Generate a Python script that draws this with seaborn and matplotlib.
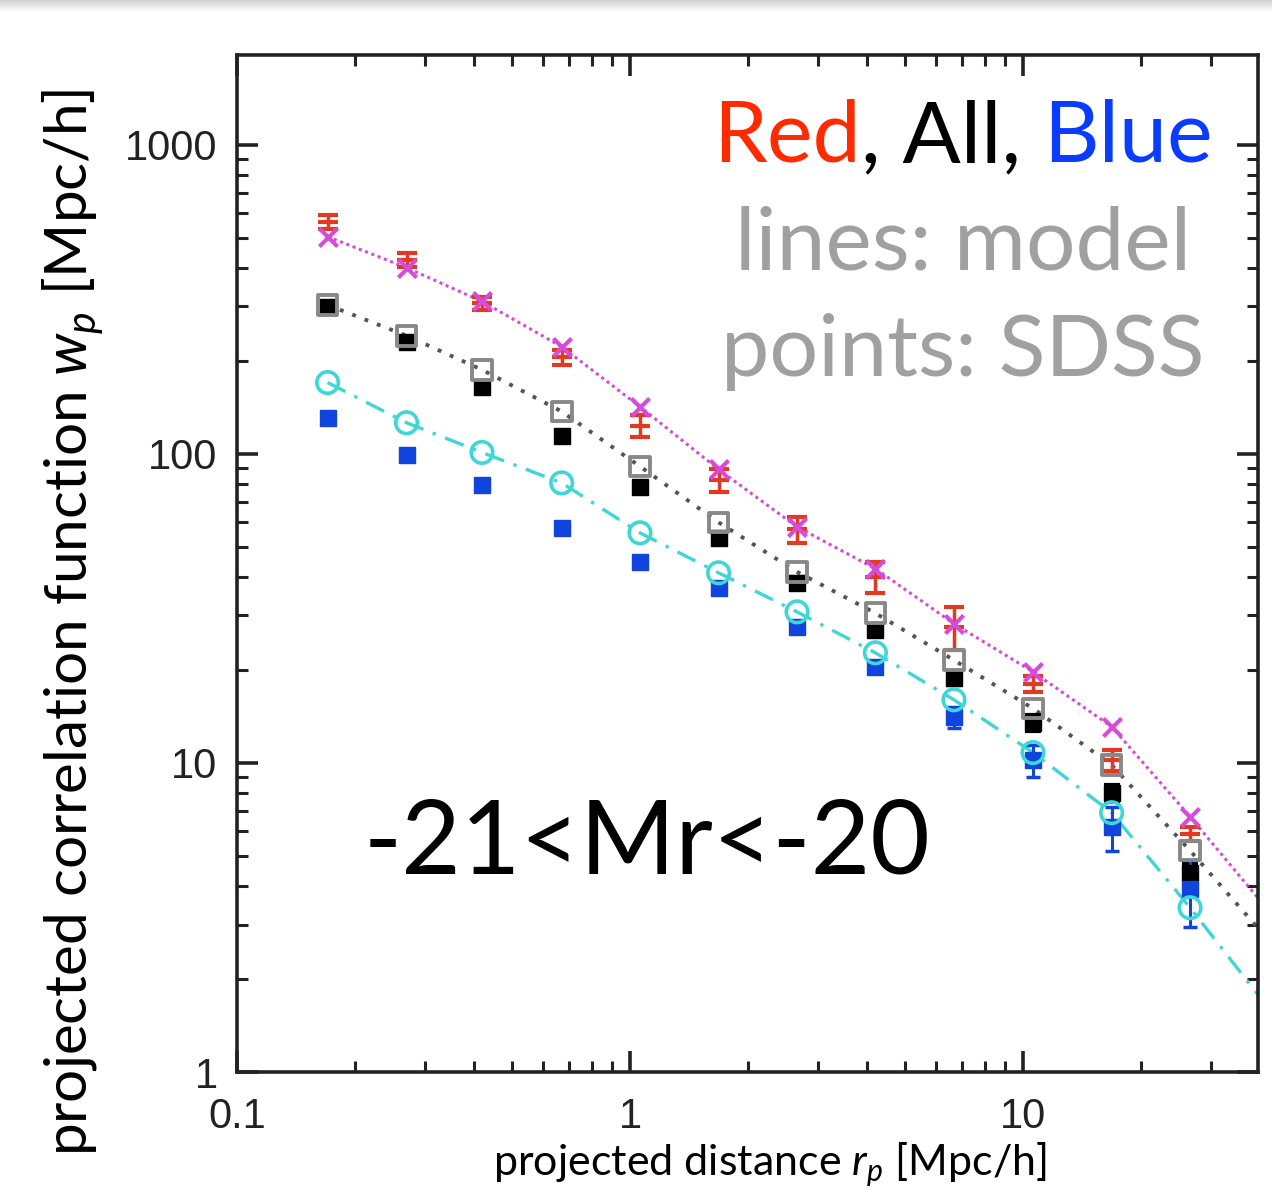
import numpy as np
import pandas as pd
import matplotlib
matplotlib.use("Agg")
import matplotlib.pyplot as plt
import seaborn as sns
from matplotlib import font_manager as fm
from matplotlib.ticker import LogLocator, FixedLocator, FixedFormatter, NullFormatter

# ---------------- data ----------------
rp = [0.17, 0.27, 0.42, 0.67, 1.06, 1.68, 2.66, 4.21, 6.67, 10.6, 16.8, 26.6]
rp_model = rp + [40.0]

red_wp = [564, 425, 307, 205, 123, 82, 57, 40, 27.5, 18.0, 10.2, 5.9]
red_err = [30, 22, 15, 12, 10, 7, 5.5, 4.5, 4.4, 1.1, 0.8, 0.3]
all_wp = [298, 230, 164, 114, 78, 53.5, 38.3, 26.9, 18.8, 13.5, 8.0, 4.4]
all_err = [12, 9, 6, 4.5, 3, 2.2, 1.6, 1.2, 1.0, 0.8, 0.5, 0.35]
blue_wp = [131, 99, 79.4, 57.6, 44.7, 36.8, 27.6, 20.5, 14.1, 10.2, 6.2, 3.9]
blue_err = [4, 3, 2.4, 1.8, 1.4, 1.3, 1.1, 0.9, 1.1, 1.2, 1.0, 0.95]

red_model = [504, 400, 311, 222, 142, 89, 58, 42.5, 28.2, 19.7, 13.1, 6.7, 3.6]
all_model = [303, 241, 187, 137, 91, 60, 41.5, 30.5, 21.5, 15.0, 9.85, 5.2, 2.88]
blue_model = [170, 126, 101, 80.5, 55.5, 41.2, 30.8, 22.7, 16.0, 10.8, 6.9, 3.4, 1.75]

y_ticks = [1, 10, 100, 1000]
y_ticklabels = ["1", "10", "100", "1000"]
x_ticks = [0.1, 1, 10]
x_ticklabels = ["0.1", "1", "10"]

# ---------------- style ----------------
sns.set_theme(style="ticks")
W, H = 1272, 1197


def has_font(name):
    try:
        fm.findfont(fm.FontProperties(family=name), fallback_to_default=False)
        return True
    except Exception:
        return False

tick_font = "Liberation Sans Narrow" if has_font("Liberation Sans Narrow") else "Liberation Sans"
text_font = "Lato" if has_font("Lato") else "DejaVu Sans"
plt.rcParams["font.family"] = [text_font, "DejaVu Sans"]
plt.rcParams["mathtext.fontset"] = "custom"
plt.rcParams["mathtext.it"] = text_font + ":italic"
plt.rcParams["mathtext.rm"] = text_font

fig = plt.figure(figsize=(W / 100, H / 100), dpi=100)
fig.patch.set_facecolor("white")

L, R, T, B = 237, 1258, 55, 1072
ax = fig.add_axes([L / W, 1 - B / H, (R - L) / W, (B - T) / H])
ax.set_xscale("log")
ax.set_yscale("log")
ax.set_xlim(0.1, 39.6)
ax.set_ylim(1, 1950)

# model lines
mred = pd.DataFrame({"rp": rp_model, "wp": red_model})
mall = pd.DataFrame({"rp": rp_model, "wp": all_model})
mblue = pd.DataFrame({"rp": rp_model, "wp": blue_model})
sns.lineplot(data=mred, x="rp", y="wp", ax=ax, color="#d84ad8", lw=2.2,
             linestyle=(0, (1, 1.2)), zorder=2)
sns.lineplot(data=mall, x="rp", y="wp", ax=ax, color="#555555", lw=2.8,
             linestyle=(0, (1, 2.4)), zorder=2)
sns.lineplot(data=mblue, x="rp", y="wp", ax=ax, color="#3ed6d6", lw=2.4,
             linestyle=(0, (6, 3, 1, 3)), zorder=2)

# SDSS points
ax.errorbar(rp, all_wp, yerr=all_err, fmt="s", color="black", ms=12,
            capsize=6, elinewidth=2.5, capthick=3, zorder=3)
ax.errorbar(rp, blue_wp, yerr=blue_err, fmt="s", color="#1144dd", ms=12,
            capsize=5, elinewidth=2.2, capthick=2.5, zorder=3)
ax.errorbar(rp, red_wp, yerr=red_err, fmt="_", color="#e23a22", ms=14, mew=3,
            capsize=7, elinewidth=2.5, capthick=3, zorder=3)

# model markers
sns.scatterplot(x=rp, y=red_model[:len(rp)], ax=ax, marker="x", s=170,
                color="#d84ad8", linewidth=3, zorder=4)
sns.scatterplot(x=rp, y=all_model[:len(rp)], ax=ax, marker="s", s=200,
                facecolor="none", edgecolor="#888888", linewidth=2.8, zorder=4)
sns.scatterplot(x=rp, y=blue_model[:len(rp)], ax=ax, marker="o", s=240,
                facecolor="none", edgecolor="#3ed6d6", linewidth=2.6, zorder=4)

ax.set_xlabel("")
ax.set_ylabel("")

# ticks
for side in ["left", "right", "top", "bottom"]:
    ax.spines[side].set_linewidth(2.6)
    ax.spines[side].set_color("#222222")
ax.tick_params(which="both", direction="in", top=True, right=True, color="#222222")
ax.tick_params(which="major", length=15, width=2.6)
ax.tick_params(which="minor", length=8, width=2.2)
ax.xaxis.set_major_locator(FixedLocator(x_ticks))
ax.xaxis.set_major_formatter(FixedFormatter(x_ticklabels))
ax.yaxis.set_major_locator(FixedLocator(y_ticks))
ax.yaxis.set_major_formatter(FixedFormatter(y_ticklabels))
ax.xaxis.set_minor_locator(LogLocator(base=10, subs=np.arange(2, 10), numticks=20))
ax.yaxis.set_minor_locator(LogLocator(base=10, subs=np.arange(2, 10), numticks=20))
ax.xaxis.set_minor_formatter(NullFormatter())
ax.yaxis.set_minor_formatter(NullFormatter())
for lab in ax.get_xticklabels() + ax.get_yticklabels():
    lab.set_fontfamily([tick_font, "DejaVu Sans"])
    lab.set_fontsize(30)
    lab.set_color("#222222")
ax.tick_params(axis="y", pad=14)
ax.tick_params(axis="x", pad=18)

# labels
fig.text(73 / W, 1 - 622 / H, "projected correlation function $w_p$ [Mpc/h]",
         rotation=90, ha="center", va="center", fontsize=42, color="black")
fig.text(770 / W, 1 - 1165 / H, "projected distance $r_p$ [Mpc/h]",
         ha="center", va="center", fontsize=31, color="black")

# annotations
cx = 963 / W
fs_top = 62
t_red = fig.text(0, 0, "Red", color="#ff2a00", fontsize=fs_top, va="center")
t_all = fig.text(0, 0, ", All, ", color="black", fontsize=fs_top, va="center")
t_blue = fig.text(0, 0, "Blue", color="#0a3cff", fontsize=fs_top, va="center")
fig.canvas.draw()
r = fig.canvas.get_renderer()
wr = t_red.get_window_extent(r).width
wa = t_all.get_window_extent(r).width
wb = t_blue.get_window_extent(r).width
total = wr + wa + wb
x0 = 963 - total / 2
ypos = 1 - 138 / H
t_red.set_position((x0 / W, ypos))
t_all.set_position(((x0 + wr) / W, ypos))
t_blue.set_position(((x0 + wr + wa) / W, ypos))

fig.text(cx, 1 - 245 / H, "lines: model", color="#a0a0a0", fontsize=63,
         ha="center", va="center")
fig.text(cx, 1 - 352 / H, "points: SDSS", color="#a0a0a0", fontsize=62,
         ha="center", va="center")
fig.text(647 / W, 1 - 845 / H, "-21<Mr<-20", color="black", fontsize=74,
         ha="center", va="center")

# top shadow band
band = fig.add_axes([0, 1 - 12 / H, 1, 12 / H])
grad = np.linspace(0.82, 1.0, 50).reshape(-1, 1)
band.imshow(np.repeat(grad, 10, axis=1), aspect="auto", cmap="gray", vmin=0, vmax=1)
band.set_axis_off()

fig.savefig("out.png", dpi=100, facecolor="white")
